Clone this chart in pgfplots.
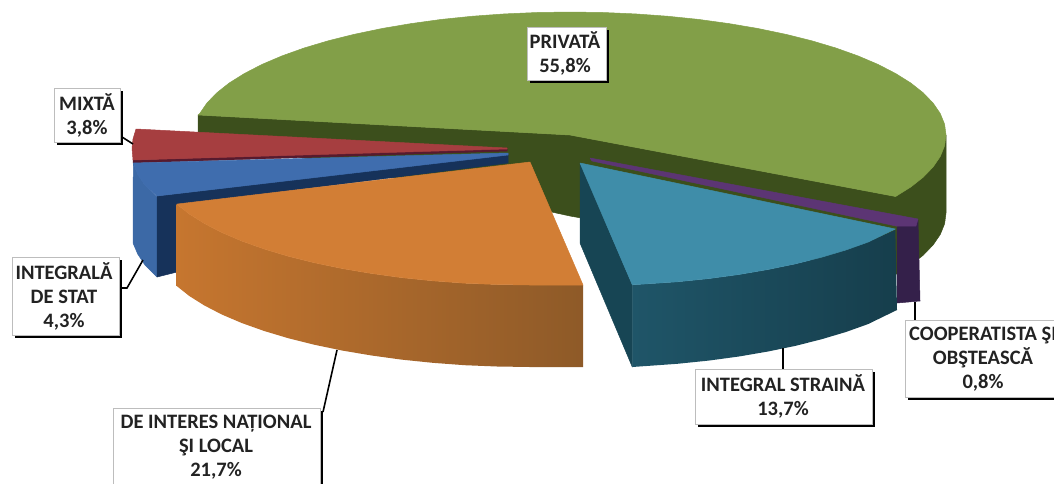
\documentclass[border=0pt]{standalone}
\usepackage{fontspec}
\setmainfont{Carlito}
\usepackage{pgfplots}
\pgfplotsset{compat=1.18}
\definecolor{greentop}{HTML}{829F48}
\definecolor{greenwall}{HTML}{3C4F1C}
\definecolor{redtop}{HTML}{A63E40}
\definecolor{redwall}{HTML}{571A2E}
\definecolor{bluetop}{HTML}{3F6DAE}
\definecolor{bluewall}{HTML}{3C69A6}
\definecolor{navy}{HTML}{16325A}
\definecolor{orangetop}{HTML}{D27E35}
\definecolor{orangeL}{HTML}{C6762F}
\definecolor{orangeR}{HTML}{8E5A28}
\definecolor{tealtop}{HTML}{3F8DA9}
\definecolor{tealL}{HTML}{1F5568}
\definecolor{tealR}{HTML}{163E4C}
\definecolor{tealside}{HTML}{174554}
\definecolor{purpletop}{HTML}{5C3574}
\definecolor{purplewall}{HTML}{34204A}
\definecolor{boxline}{HTML}{BDBDBD}
\definecolor{txt}{HTML}{222222}
\tikzset{
  lbl/.style={font=\fontsize{20.5}{24}\selectfont\bfseries, text=txt, align=center, inner sep=0pt},
  leader/.style={black, line width=1.6pt},
  face/.style={fill=#1, draw=#1, line width=.5pt, line join=round},
}
\begin{document}
\begin{tikzpicture}
\path[use as bounding box,clip] (0,0) rectangle (1054pt,483pt);
\begin{axis}[
  width=1054pt, height=483pt, scale only axis,
  xmin=0, xmax=1054, ymin=0, ymax=483,
  y dir=reverse, hide axis, clip=false,
]
% private slice: walls first, then top
\addplot[face=greenwall] coordinates {
 (198,115) (570,135) (895.6,196.5) (946,135) (946,213) (944.6,223.7) (940.3,234.4)
 (933.2,244.8) (923.3,255.1) (910.8,265) (895.6,274.5) (570,216) (198,135)} --cycle;
\addplot[face=greentop] coordinates {
 (570,135) (895.6,196.5) (910.8,187) (923.3,177.1) (933.2,166.8) (940.3,156.4) (944.6,145.7)
 (946,135) (944.6,124.3) (940.3,113.6) (933.2,103.2) (923.3,92.9) (910.8,83) (895.6,73.5)
 (878,64.4) (858,55.9) (835.9,48) (811.8,40.8) (785.7,34.3) (758,28.5) (729,23.6) (698.6,19.4)
 (667.3,16.2) (635.3,13.9) (602.8,12.5) (570,12) (537.2,12.5) (504.7,13.9) (472.7,16.2)
 (441.4,19.4) (411,23.6) (382,28.5) (354.3,34.3) (328.2,40.8) (304.1,48) (282,55.9) (262,64.4)
 (244.4,73.5) (229.2,83) (216.7,92.9) (206.8,103.2) (199.7,113.6) (198,115)} --cycle;

% red
\addplot[face=redwall] coordinates {(133,160) (507,148) (507,151) (133,163)} --cycle;
\addplot[face=redtop] coordinates {(136,129) (133,139) (132,148) (133,160) (507,149) (507,148)} --cycle;

% blue
\addplot[face=bluewall] coordinates {
 (133.3,163) (133,243) (137.7,254) (144.8,264.8) (157,277) (157,197) (144.8,184.8) (137.7,174.4)} --cycle;
\addplot[face=navy] coordinates {(157,196) (508,154) (508,163) (177,205) (177,272) (157,277)} --cycle;
\addplot[face=bluetop] coordinates {
 (133.3,163) (137.7,174.4) (144.8,184.8) (157,196) (508,155) (508,153)} --cycle;

% orange
\addplot[draw=none,left color=orangeL,right color=orangeR] coordinates {
 (176.7,204.1) (189.3,214) (204.4,223.5) (222,232.6) (242,241.1) (264.2,249) (288.2,256.2)
 (314.2,262.7) (342,268.5) (371,273.4) (401.4,277.6) (432.6,280.8) (464.7,283.2) (497.2,284.5)
 (530,285) (583,285) (583,367) (530,367) (497.2,366.5) (464.7,365.2) (432.6,362.8) (401.4,359.6)
 (371,355.4) (342,350.5) (314.2,344.7) (288.2,338.2) (264.2,331) (242,323.1) (222,314.6)
 (204.4,305.5) (189.3,296) (176.7,286)} --cycle;
\addplot[face=orangetop] coordinates {
 (530,162) (583,285) (530,285) (497.2,284.5) (464.7,283.2) (432.6,280.8) (401.4,277.6) (371,273.4)
 (342,268.5) (314.2,262.7) (288.2,256.2) (264.2,249) (242,241.1) (222,232.6) (204.4,223.5)
 (189.3,214) (176.7,204.1)} --cycle;

% purple sliver
\addplot[face=purplewall] coordinates {(897,227) (918,220) (920,301) (897,303)} --cycle;
\addplot[face=purpletop] coordinates {(590,158) (918,219) (916,226) (896,226) (592,161)} --cycle;

% teal
\addplot[face=tealside] coordinates {(580,163) (632.3,284.8) (632.3,367) (580,243)} --cycle;
\addplot[draw=none,left color=tealL,right color=tealR] coordinates {
 (632.3,284.8) (677.3,281.8) (708.6,278.6) (738.9,274.5) (768,269.5) (795.7,263.8) (821.7,257.2)
 (845.9,250) (868,242.1) (895.3,230) (897,310) (868,324.1) (845.9,332) (821.7,339.2) (795.7,345.8)
 (768,351.5) (738.9,356.5) (708.6,360.6) (677.3,363.8) (632.3,367)} --cycle;
\addplot[face=tealtop] coordinates {
 (580,163) (632.3,284.8) (677.3,281.8) (708.6,278.6) (738.9,274.5) (768,269.5) (795.7,263.8)
 (821.7,257.2) (845.9,250) (868,242.1) (895.3,229)} --cycle;

% leader lines
\draw[leader] (axis cs:122,137) -- (axis cs:133,144);
\draw[leader] (axis cs:143,260) -- (axis cs:127,288) -- (axis cs:122,288);
\draw[leader] (axis cs:337,350) -- (axis cs:323,412);
\draw[leader] (axis cs:783,348) -- (axis cs:783,370);
\draw[leader] (axis cs:915,302) -- (axis cs:915,321);

% label boxes: shadow, then the box
\fill[black] (axis cs:530,30) rectangle (axis cs:609,83);
\filldraw[fill=white,draw=boxline,line width=.5pt] (axis cs:527,27) rectangle (axis cs:606,80);
\fill[black] (axis cs:57,91) rectangle (axis cs:123,145);
\filldraw[fill=white,draw=boxline,line width=.5pt] (axis cs:54,88) rectangle (axis cs:120,142);
\fill[black] (axis cs:15,260) rectangle (axis cs:122,338);
\filldraw[fill=white,draw=boxline,line width=.5pt] (axis cs:12,257) rectangle (axis cs:119,335);
\fill[black] (axis cs:116,411) rectangle (axis cs:323,500);
\filldraw[fill=white,draw=boxline,line width=.5pt] (axis cs:113,408) rectangle (axis cs:320,500);
\fill[black] (axis cs:698,372) rectangle (axis cs:875,427);
\filldraw[fill=white,draw=boxline,line width=.5pt] (axis cs:695,369) rectangle (axis cs:872,424);
\fill[black] (axis cs:908,323) rectangle (axis cs:1070,400);
\filldraw[fill=white,draw=boxline,line width=.5pt] (axis cs:905,320) rectangle (axis cs:1070,397);

\node[lbl] at (axis cs:565,53) {PRIVATĂ\\55,8\%};
\node[lbl] at (axis cs:87,115) {MIXTĂ\\3,8\%};
\node[lbl] at (axis cs:64,296) {INTEGRALĂ\\DE STAT\\4,3\%};
\node[lbl] at (axis cs:216,447) {DE INTERES NAȚIONAL\\ŞI LOCAL\\21,7\%};
\node[lbl] at (axis cs:783,396) {INTEGRAL STRAINĂ\\13,7\%};
\node[lbl] at (axis cs:983,359) {COOPERATISTA ŞI\\OBŞTEASCĂ\\0,8\%};
\end{axis}
\end{tikzpicture}
\end{document}
